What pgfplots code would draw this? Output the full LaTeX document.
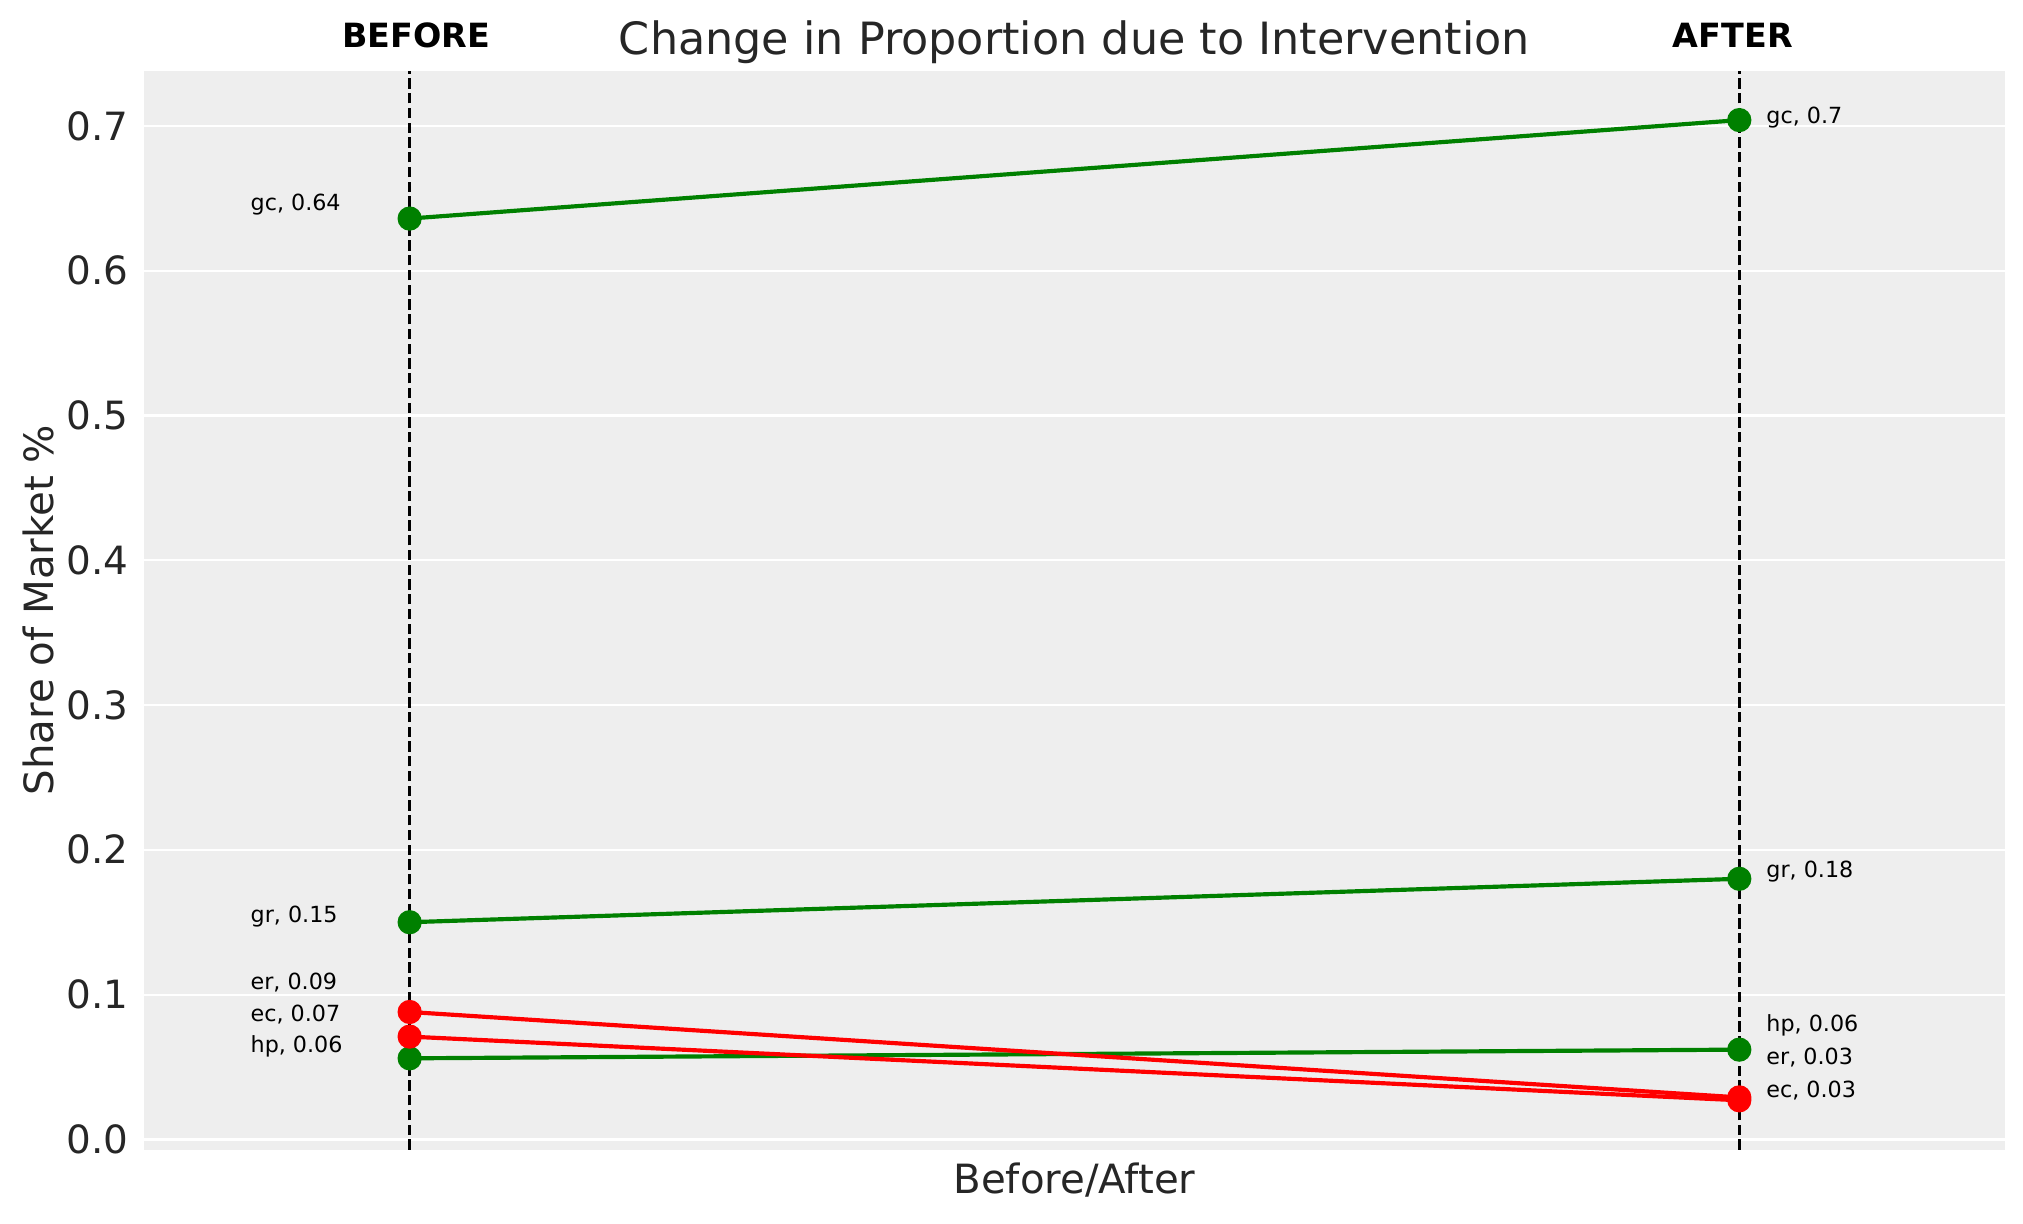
\documentclass[border=0pt]{standalone}
\usepackage{fontspec}
\setmainfont{DejaVu Sans}
\usepackage{pgfplots}
\pgfplotsset{compat=1.18}
\definecolor{bg}{HTML}{EEEEEE}
\definecolor{txt}{HTML}{262626}
\definecolor{mgreen}{HTML}{008000}
\definecolor{mred}{HTML}{FF0000}
\begin{document}
\begin{tikzpicture}
\useasboundingbox (-51.7pt,-26.5pt) rectangle (676pt,413.5pt);
\begin{axis}[at={(0,0)}, anchor=south west,
  width=669.6pt, height=388pt, scale only axis,
  xmin=-0.2, xmax=1.2, ymin=-0.007, ymax=0.738,
  axis background/.style={fill=bg},
  axis line style={draw=none},
  xtick=\empty,
  ytick={0,0.1,0.2,0.3,0.4,0.5,0.6,0.7},
  major tick length=0pt,
  ymajorgrids, grid style={white, line width=0.8pt},
  /pgf/number format/assume math mode=true,
  yticklabel style={/pgf/number format/fixed, /pgf/number format/precision=1,
    /pgf/number format/fixed zerofill, font=\fontsize{14}{16}\selectfont, text=txt,
    xshift=-2pt},
  clip=false]
\addplot[black, line width=1pt, dash pattern=on 3.7pt off 1.6pt] coordinates {(0,-0.007) (0,0.738)};
\addplot[black, line width=1pt, dash pattern=on 3.7pt off 1.6pt] coordinates {(1,-0.007) (1,0.738)};
% gc
\addplot[mgreen, line width=1.5pt, mark=*, mark size=3.6pt] coordinates {(0,0.636) (1,0.704)};
% gr
\addplot[mgreen, line width=1.5pt, mark=*, mark size=3.6pt] coordinates {(0,0.150) (1,0.180)};
% hp
\addplot[mgreen, line width=1.5pt, mark=*, mark size=3.6pt] coordinates {(0,0.056) (1,0.062)};
% er
\addplot[mred, line width=1.5pt, mark=*, mark size=3.6pt] coordinates {(0,0.088) (1,0.029)};
% ec
\addplot[mred, line width=1.5pt, mark=*, mark size=3.6pt] coordinates {(0,0.071) (1,0.027)};

\tikzset{lab/.style={anchor=west, inner sep=0pt, font=\fontsize{8}{9.6}\selectfont}}
\node[lab] at (axis cs:-0.12,0.646) {gc, 0.64};
\node[lab] at (axis cs:-0.12,0.154) {gr, 0.15};
\node[lab] at (axis cs:-0.12,0.108) {er, 0.09};
\node[lab] at (axis cs:-0.12,0.0865) {ec, 0.07};
\node[lab] at (axis cs:-0.12,0.064) {hp, 0.06};

\node[lab] at (axis cs:1.02,0.7056) {gc, 0.7};
\node[lab] at (axis cs:1.02,0.1847) {gr, 0.18};
\node[lab] at (axis cs:1.02,0.0785) {hp, 0.06};
\node[lab] at (axis cs:1.02,0.0562) {er, 0.03};
\node[lab] at (axis cs:1.02,0.0339) {ec, 0.03};

\node[anchor=base, xshift=2.3pt, yshift=8.4pt, font=\bfseries\fontsize{12}{14}\selectfont] at (axis cs:0,0.738) {BEFORE};
\node[anchor=base, xshift=-2.3pt, yshift=8.4pt, font=\bfseries\fontsize{12}{14}\selectfont] at (axis cs:1,0.738) {AFTER};
\end{axis}
\node[anchor=base, text=txt, font=\fontsize{16}{19}\selectfont] at (334.8pt,394pt) {Change in Proportion due to Intervention};
\node[text=txt, font=\fontsize{14.5}{17}\selectfont] at (334.8pt,-11pt) {Before/After};
\node[rotate=90, text=txt, font=\fontsize{14.5}{17}\selectfont] at (-37.7pt,194pt) {Share of Market \%};
\end{tikzpicture}
\end{document}
